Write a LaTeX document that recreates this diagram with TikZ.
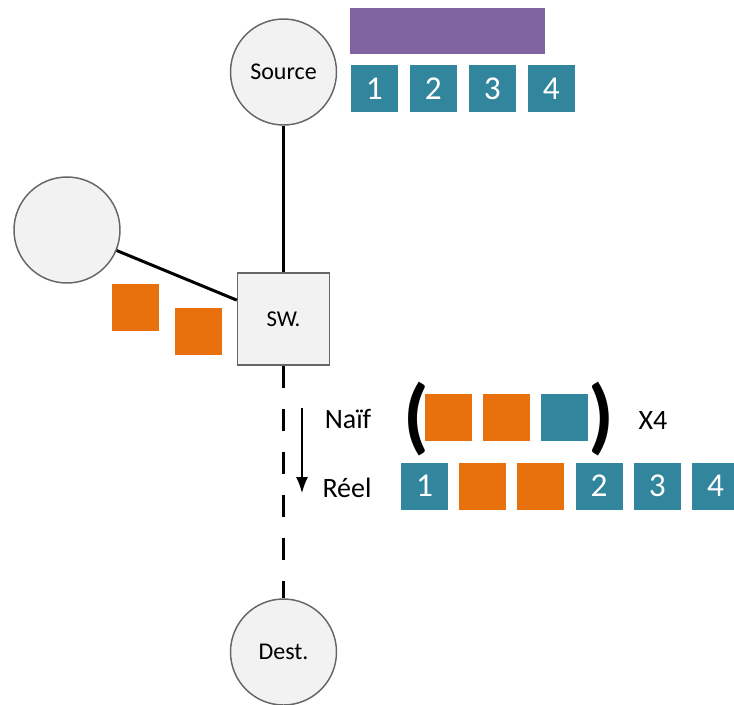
\documentclass[tikz,border=0pt]{standalone}
\usepackage{fontspec}
\setmainfont{Carlito}
\usepackage{tikz}
\usetikzlibrary{arrows.meta,calc}
\usetikzlibrary{shapes}
\definecolor{PktTeal}{RGB}{49,133,156}
\definecolor{PktOrange}{RGB}{233,113,13}
\definecolor{PktPurple}{RGB}{128,100,162}
\definecolor{HostGray}{RGB}{242,242,242}
\tikzset{
	host/.style={circle, draw=black!60, fill=HostGray, line width=1.1pt, minimum size=79.5pt, inner sep=0pt, font=\fontsize{18}{20}\selectfont},
	switch/.style={rectangle, draw=black!60, fill=HostGray, line width=1.1pt, minimum size=69pt, inner sep=0pt, font=\fontsize{17}{20}\selectfont},
	pkt/.style={rectangle, inner sep=0pt, minimum size=35.25pt, text=white, font=\fontsize{25}{28}\selectfont},
	link/.style={line width=2.25pt},
	rowname/.style={inner sep=0pt, font=\fontsize{21}{24}\selectfont},
	paren/.style={inner sep=0pt, font=\fontsize{62}{62}\selectfont\bfseries}
}
\newcommand{\dataPkt}[3]{
	% name, position, number
	\node[pkt, fill=PktTeal] (#1) at #2 {#3};
}
\newcommand{\ackPkt}[2]{
	\node[pkt, fill=PktOrange] (#1) at #2 {};
}
\begin{document}
\begin{tikzpicture}[x=0.75pt, y=-0.75pt]
	\useasboundingbox (0,0) rectangle (734,704);
	\pgfmathsetmacro{\pitch}{58.2};
%
	%hosts and switch
	\node[host] (src) at (283.5,72) {Source};
	\node[host] (other) at (67,230) {};
	\node[switch] (sw) at (283.5,319) {SW.};
	\node[host] (dst) at (283.5,652) {Dest.};
%
	\draw[link] (src) -- (sw);
	\draw[link] (other) -- (sw.158);
	\draw[link, dash pattern=on 16.5pt off 15.75pt] (sw.south) -- (dst.north);
%
	%message sent by the source
	\node[rectangle, fill=PktPurple, inner sep=0pt, minimum width=146.25pt, minimum height=34.5pt] (msg) at (447.8,31) {};
	\foreach \i in {1,...,4}{
		\dataPkt{top\i}{({374.3+(\i-1)*59},88.5)}{\i}
	}
%
	%acks coming from the other host
	\ackPkt{ackA}{(135.5,307.5)}
	\ackPkt{ackB}{(198.5,331)}
%
	%naive order
	\node[rowname] (naif) at (348,419) {Naïf};
	\node[paren] (lpar) at (416,419) {(};
	\ackPkt{naifA}{(448.5,417.5)}
	\ackPkt{naifB}{(506.5,417.5)}
	\dataPkt{naifC}{(564.5,417.5)}{}
	\node[paren] (rpar) at (601,419) {)};
	\node[rowname] (times) at (653,420) {X4};
%
	%real order
	\node[rowname] (reel) at (347,488) {Réel};
	\dataPkt{reel1}{(424.5,486)}{1}
	\ackPkt{reelA}{({424.5+\pitch},486)}
	\ackPkt{reelB}{({424.5+2*\pitch},486)}
	\foreach \i in {2,...,4}{
		\dataPkt{reel\i}{({424.5+(\i+1)*\pitch},486)}{\i}
	}
%
	%time goes down
	\coordinate (t0) at (302,408);
	\coordinate (t1) at (302,493);
	\draw[line width=1.1pt, -{Latex[length=12pt, width=9pt]}] (t0) -- (t1);
\end{tikzpicture}
\end{document}
